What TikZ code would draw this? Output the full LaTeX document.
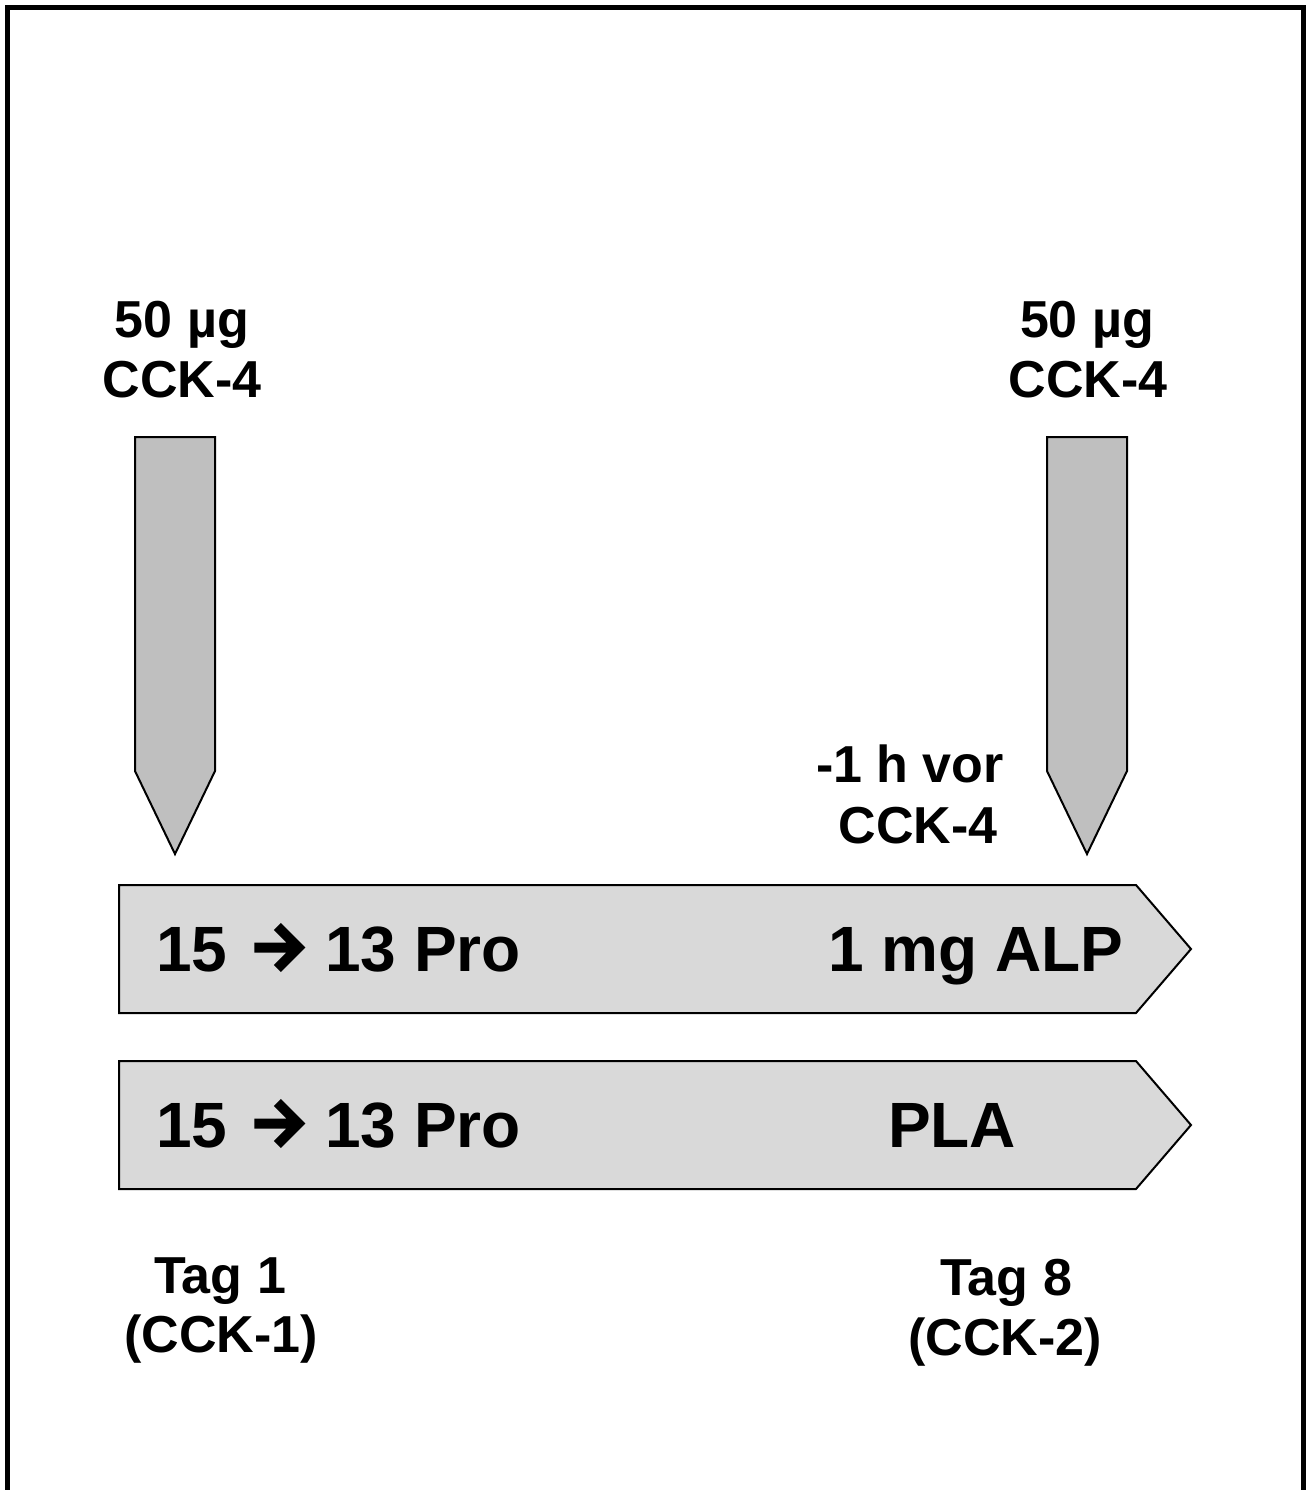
\documentclass[tikz,border=0pt]{standalone}
\usepackage{fontspec}
\setmainfont{Liberation Sans}
\newcommand{\thickarrow}{\kern2pt\tikz[baseline=0pt, x=1pt, y=1pt]{\draw[line width=5pt, line join=miter, line cap=butt] (0,11.75) -- (22,11.75) (11.5,22.25) -- (22,11.75) -- (11.5,1.25);}\kern2pt}
\begin{document}
\begin{tikzpicture}[x=0.5pt,y=-0.5pt,
  lbl/.style={font=\bfseries\fontsize{26}{30}\selectfont, inner sep=0pt, anchor=base},
  big/.style={font=\bfseries\fontsize{32}{38}\selectfont, inner sep=0pt, anchor=base},
  pointer/.style={draw=black, line width=1pt, fill=black!25, line join=miter},
  band/.style={draw=black, line width=1pt, fill=black!15, line join=miter},
  frame/.style={draw=black, line width=2.5pt}]
\useasboundingbox (0,0) rectangle (1308,1490);
% open frame
\draw[frame] (7.5,1495) -- (7.5,7.5) -- (1303.5,7.5) -- (1303.5,1495);
% pointers
\draw[pointer] (135,437) -- (215,437) -- (215,771) -- (175,854) -- (135,771) -- cycle;
\draw[pointer] (1047,437) -- (1127,437) -- (1127,771) -- (1087,854) -- (1047,771) -- cycle;
% bands
\draw[band] (119,885) -- (1136,885) -- (1191,949) -- (1136,1013) -- (119,1013) -- cycle;
\draw[band] (119,1061) -- (1136,1061) -- (1191,1125) -- (1136,1189) -- (119,1189) -- cycle;
% labels
\node[lbl] (l1a) at (182,337) {50 µg};
\node[lbl] (l1b) at (182,397) {CCK-4};
\node[lbl] (r1a) at (1087,337) {50 µg};
\node[lbl] (r1b) at (1088,397) {CCK-4};
\node[lbl] (v1) at (910,782) {-1 h vor};
\node[lbl] (v2) at (918,843) {CCK-4};
\node[big, anchor=base west] (p1) at (156,971) {15 \thickarrow{} 13 Pro};
\node[big] (alp) at (976,971) {1 mg ALP};
\node[big, anchor=base west] (p2) at (156,1147) {15 \thickarrow{} 13 Pro};
\node[big] (pla) at (952,1147) {PLA};
\node[lbl] (t1a) at (220,1293) {Tag 1};
\node[lbl] (t1b) at (221,1352) {(CCK-1)};
\node[lbl] (t8a) at (1006,1295) {Tag 8};
\node[lbl] (t8b) at (1005,1355) {(CCK-2)};
\end{tikzpicture}
\end{document}
